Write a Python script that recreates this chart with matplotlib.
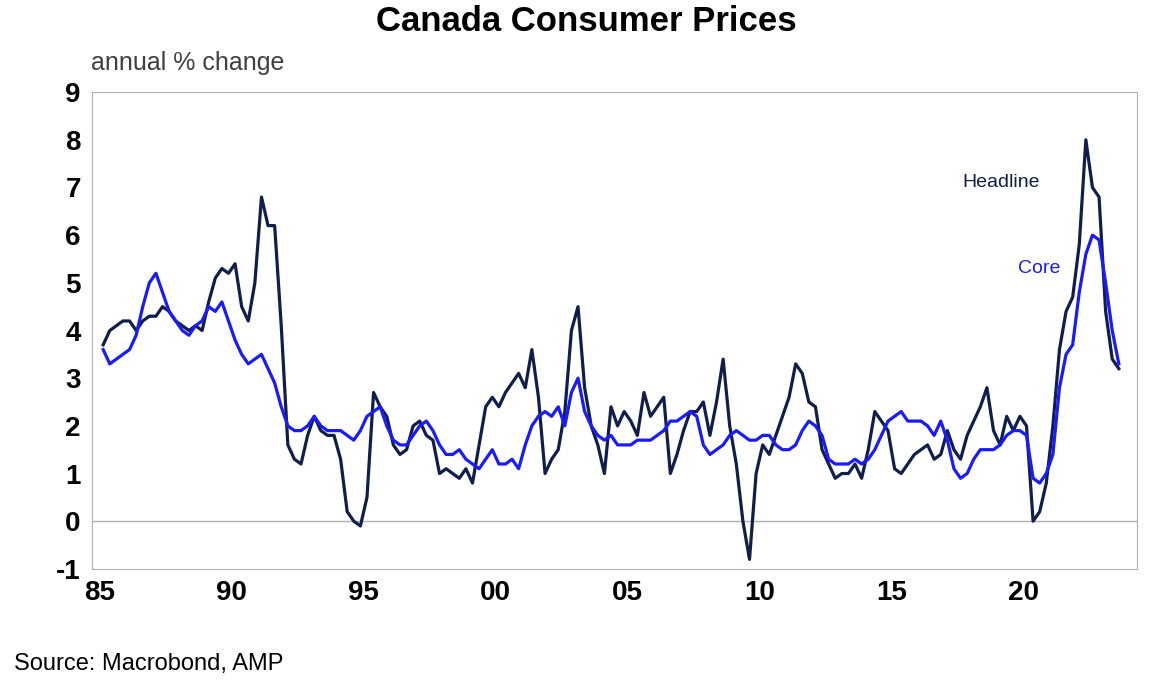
import numpy as np
import matplotlib.pyplot as plt

plt.rcParams['font.family'] = ['Liberation Sans', 'DejaVu Sans']

# quarterly readings, 1985Q1 onward (annual % change)
headline = [
    3.7, 4.0, 4.1, 4.2, 4.2, 4.0, 4.2, 4.3, 4.3, 4.5, 4.4, 4.2, 4.1, 4.0, 4.1, 4.0,
    4.6, 5.1, 5.3, 5.2, 5.4, 4.5, 4.2, 5.0, 6.8, 6.2, 6.2, 4.1, 1.6, 1.3, 1.2, 1.8,
    2.2, 1.9, 1.8, 1.8, 1.3, 0.2, 0.0, -0.1, 0.5, 2.7, 2.4, 2.2, 1.6, 1.4, 1.5, 2.0,
    2.1, 1.8, 1.7, 1.0, 1.1, 1.0, 0.9, 1.1, 0.8, 1.6, 2.4, 2.6, 2.4, 2.7, 2.9, 3.1,
    2.8, 3.6, 2.6, 1.0, 1.3, 1.5, 2.3, 4.0, 4.5, 2.8, 2.0, 1.6, 1.0, 2.4, 2.0, 2.3,
    2.1, 1.8, 2.7, 2.2, 2.4, 2.6, 1.0, 1.4, 1.9, 2.3, 2.3, 2.5, 1.8, 2.5, 3.4, 2.0,
    1.2, 0.0, -0.8, 1.0, 1.6, 1.4, 1.8, 2.2, 2.6, 3.3, 3.1, 2.5, 2.4, 1.5, 1.2, 0.9,
    1.0, 1.0, 1.2, 0.9, 1.5, 2.3, 2.1, 1.9, 1.1, 1.0, 1.2, 1.4, 1.5, 1.6, 1.3, 1.4,
    1.9, 1.5, 1.3, 1.8, 2.1, 2.4, 2.8, 1.9, 1.6, 2.2, 1.9, 2.2, 2.0, 0.0, 0.2, 0.8,
    2.0, 3.6, 4.4, 4.7, 5.8, 8.0, 7.0, 6.8, 4.4, 3.4, 3.2,
]
core = [
    3.6, 3.3, 3.4, 3.5, 3.6, 3.9, 4.5, 5.0, 5.2, 4.8, 4.4, 4.2, 4.0, 3.9, 4.1, 4.2,
    4.5, 4.4, 4.6, 4.2, 3.8, 3.5, 3.3, 3.4, 3.5, 3.2, 2.9, 2.4, 2.0, 1.9, 1.9, 2.0,
    2.2, 2.0, 1.9, 1.9, 1.9, 1.8, 1.7, 1.9, 2.2, 2.3, 2.4, 2.0, 1.7, 1.6, 1.6, 1.8,
    2.0, 2.1, 1.9, 1.6, 1.4, 1.4, 1.5, 1.3, 1.2, 1.1, 1.3, 1.5, 1.2, 1.2, 1.3, 1.1,
    1.6, 2.0, 2.2, 2.3, 2.2, 2.4, 2.0, 2.7, 3.0, 2.3, 2.0, 1.8, 1.7, 1.8, 1.6, 1.6,
    1.6, 1.7, 1.7, 1.7, 1.8, 1.9, 2.1, 2.1, 2.2, 2.3, 2.2, 1.6, 1.4, 1.5, 1.6, 1.8,
    1.9, 1.8, 1.7, 1.7, 1.8, 1.8, 1.6, 1.5, 1.5, 1.6, 1.9, 2.1, 2.0, 1.8, 1.3, 1.2,
    1.2, 1.2, 1.3, 1.2, 1.3, 1.5, 1.8, 2.1, 2.2, 2.3, 2.1, 2.1, 2.1, 2.0, 1.8, 2.1,
    1.7, 1.1, 0.9, 1.0, 1.3, 1.5, 1.5, 1.5, 1.6, 1.8, 1.9, 1.9, 1.8, 0.9, 0.8, 1.0,
    1.4, 2.8, 3.5, 3.7, 4.8, 5.6, 6.0, 5.9, 5.0, 4.0, 3.3,
]
tick_years = [1985, 1990, 1995, 2000, 2005, 2010, 2015, 2020]
tick_labels = ["85", "90", "95", "00", "05", "10", "15", "20"]

t_head = 1985 + np.arange(len(headline)) / 4 + 0.125
t_core = 1985 + np.arange(len(core)) / 4 + 0.125

fig = plt.figure(figsize=(11.73, 6.98), dpi=100)
ax = fig.add_axes([0.0784, 0.185, 0.8906, 0.683])

ax.axhline(0, color="#b0b0b0", linewidth=1)
ax.plot(t_head, headline, color="#0f1e4a", linewidth=2.3)
ax.plot(t_core, core, color="#1a1aff", linewidth=2.3)

ax.set_xlim(1984.7, 2024.3)
ax.set_ylim(-1, 9)
ax.set_yticks(range(-1, 10))
ax.set_yticklabels([str(v) for v in range(-1, 10)])
ax.set_xticks(tick_years)
ax.set_xticklabels(tick_labels)
ax.tick_params(labelsize=20, length=0, pad=8)
for lab in ax.get_xticklabels() + ax.get_yticklabels():
    lab.set_fontweight("bold")
for s in ax.spines.values():
    s.set_color("#b0b0b0")

ax.text(2017.7, 7.0, "Headline", color="#0f1e4a", fontsize=14)
ax.text(2019.8, 5.2, "Core", color="#1a1aff", fontsize=14)

fig.text(0.5, 0.955, "Canada Consumer Prices", ha="center", fontsize=25,
         fontweight="bold")
fig.text(0.078, 0.9, "annual % change", fontsize=18, color="#404040")
fig.text(0.012, 0.04, "Source: Macrobond, AMP", fontsize=17)

fig.savefig("out.png", dpi=100)
